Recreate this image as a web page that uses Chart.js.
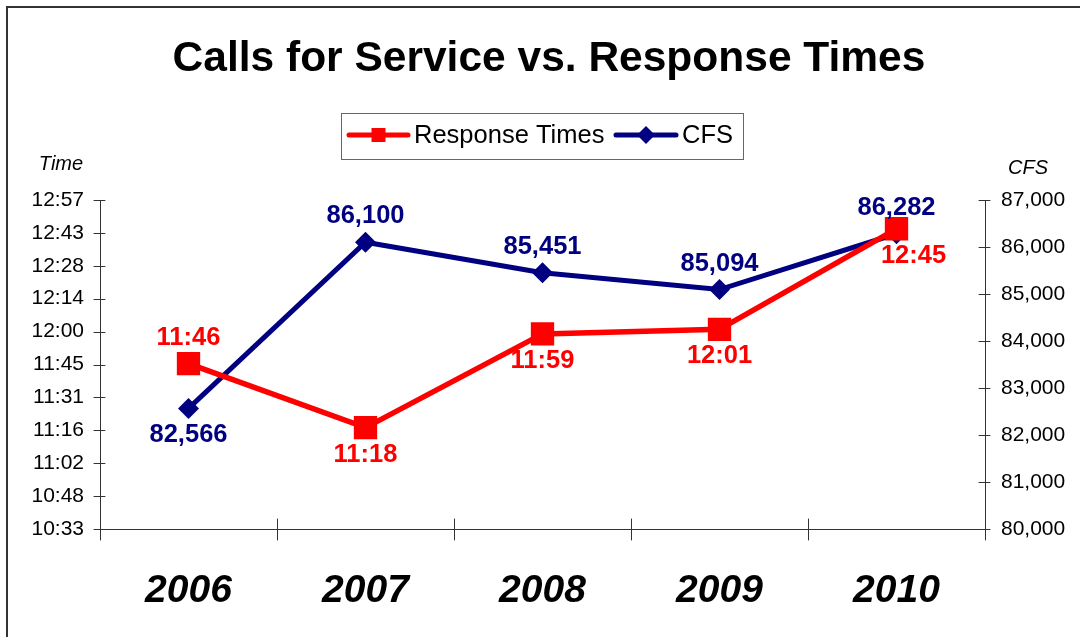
<!DOCTYPE html>
<html>
<head>
<meta charset="utf-8">
<script src="https://cdn.jsdelivr.net/npm/chart.js@4"></script>
<style>
  html, body { margin: 0; padding: 0; background: #fff; }
  #wrap { width: 1080px; height: 637px; position: relative; }
</style>
</head>
<body>
<div id="wrap"><canvas id="cfsChart" width="1080" height="637"></canvas></div>
<script>
// chart data
const years = ['2006', '2007', '2008', '2009', '2010'];
const responseTimes = ['11:46', '11:18', '11:59', '12:01', '12:45'];
const callsForService = [82566, 86100, 85451, 85094, 86282];

// Excel-style time axis: 1 unit = 0.01 day = 14.4 minutes
const TIME_UNIT = 14.4;
const toUnits = t => { const p = t.split(':'); return (+p[0] * 60 + +p[1]) / TIME_UNIT; };
const fmtTime = v => {
  const m = Math.floor(v * TIME_UNIT + 1e-6);
  return Math.floor(m / 60) + ':' + String(m % 60).padStart(2, '0');
};

// label placement: -1 above point, +1 below
const rtLabelSide = [-1, 1, 1, 1, 1];
const cfsLabelSide = [1, -1, -1, -1, -1];

const FONT = 'Liberation Sans, Arial, sans-serif';

const decor = {
  id: 'decor',
  beforeDraw(chart) {
    const c = chart.ctx;
    c.save();
    c.fillStyle = '#fff';
    c.fillRect(0, 0, chart.width, chart.height);
    // outer frame
    c.strokeStyle = '#333';
    c.lineWidth = 2;
    c.beginPath();
    c.moveTo(7, chart.height);
    c.lineTo(7, 7);
    c.lineTo(chart.width, 7);
    c.stroke();
    c.restore();
  },
  afterDraw(chart) {
    const c = chart.ctx;
    const a = chart.chartArea;
    const x = chart.scales.x, yL = chart.scales.y, yR = chart.scales.y1;
    c.save();
    // title
    c.fillStyle = '#000';
    c.font = 'bold 42.5px ' + FONT;
    c.textAlign = 'center';
    c.textBaseline = 'middle';
    c.fillText('Calls for Service vs. Response Times', 549, 59);

    // axis titles
    c.font = 'italic 20px ' + FONT;
    c.fillText('Time', 61, 164);
    c.fillText('CFS', 1028, 168);

    // legend box
    c.strokeStyle = '#666';
    c.lineWidth = 1;
    c.strokeRect(341.5, 113.5, 402, 46);
    const ly = 135;
    const items = [
      { ds: chart.data.datasets[0], x0: 349, x1: 408 },
      { ds: chart.data.datasets[1], x0: 616, x1: 676 }
    ];
    items.forEach(it => {
      c.strokeStyle = it.ds.borderColor;
      c.lineWidth = 5;
      c.lineCap = 'round';
      c.beginPath(); c.moveTo(it.x0, ly); c.lineTo(it.x1, ly); c.stroke();
      c.fillStyle = it.ds.borderColor;
      const mx = (it.x0 + it.x1) / 2;
      c.beginPath();
      if (it.ds.pointStyle === 'rect') {
        c.rect(mx - 7, ly - 7, 14, 14);
      } else {
        c.moveTo(mx, ly - 9); c.lineTo(mx + 9, ly); c.lineTo(mx, ly + 9); c.lineTo(mx - 9, ly);
      }
      c.fill();
      c.fillStyle = '#000';
      c.font = '25.5px ' + FONT;
      c.textAlign = 'left';
      c.fillText(it.ds.label, it.x1 + 6, ly + 1);
    });

    // cross tick marks on the axes
    c.strokeStyle = '#333';
    c.lineWidth = 1;
    c.beginPath();
    yL.ticks.forEach(t => {
      const py = Math.round(yL.getPixelForValue(t.value)) + 0.5;
      c.moveTo(a.left - 6, py); c.lineTo(a.left + 5, py);
    });
    yR.ticks.forEach(t => {
      const py = Math.round(yR.getPixelForValue(t.value)) + 0.5;
      c.moveTo(a.right - 6, py); c.lineTo(a.right + 5, py);
    });
    const step = x.getPixelForValue(1) - x.getPixelForValue(0);
    for (let i = 0; i <= years.length; i++) {
      const px = Math.round(x.getPixelForValue(i) - step / 2) + 0.5;
      c.moveTo(px, a.bottom - 10); c.lineTo(px, a.bottom + 11);
    }
    c.stroke();

    // data labels
    c.font = 'bold 25.5px ' + FONT;
    c.textAlign = 'center';
    const drawLabels = (idx, side, fmt, dx) => {
      const meta = chart.getDatasetMeta(idx);
      c.fillStyle = chart.data.datasets[idx].borderColor;
      meta.data.forEach((pt, i) => {
        const off = side[i] < 0 ? -26 : 27;
        c.fillText(fmt(i), pt.x + (dx[i] || 0), pt.y + off);
      });
    };
    drawLabels(0, rtLabelSide, i => responseTimes[i], [0, 0, 0, 0, 17]);
    drawLabels(1, cfsLabelSide, i => callsForService[i].toLocaleString('en-US'), [0, 0, 0, 0, 0]);
    c.restore();
  }
};

new Chart(document.getElementById('cfsChart').getContext('2d'), {
  type: 'line',
  data: {
    labels: years,
    datasets: [{
      label: 'Response Times',
      data: responseTimes.map(toUnits),
      yAxisID: 'y',
      borderColor: '#ff0000',
      backgroundColor: '#ff0000',
      borderWidth: 5.5,
      pointStyle: 'rect',
      pointRadius: 16.5,
      pointHoverRadius: 16.5,
      pointBorderWidth: 0,
      tension: 0
    }, {
      label: 'CFS',
      data: callsForService,
      yAxisID: 'y1',
      borderColor: '#000080',
      backgroundColor: '#000080',
      borderWidth: 5,
      pointStyle: 'rectRot',
      pointRadius: 10.5,
      pointHoverRadius: 10.5,
      pointBorderWidth: 0,
      tension: 0
    }]
  },
  options: {
    responsive: false,
    animation: false,
    events: [],
    layout: { padding: { top: 200, left: 0, right: 0, bottom: 0 } },
    plugins: {
      legend: { display: false },
      title: { display: false },
      tooltip: { enabled: false }
    },
    scales: {
      x: {
        offset: true,
        grid: { display: false },
        border: { display: true, color: '#333', width: 1 },
        ticks: {
          color: '#000',
          padding: 31,
          font: { family: FONT, size: 39, weight: 'bold', style: 'italic' }
        },
        afterFit: s => { s.height = 108; }
      },
      y: {
        position: 'left',
        min: 44,
        max: 54,
        grid: { display: false },
        border: { display: true, color: '#333', width: 1 },
        ticks: {
          stepSize: 1,
          color: '#000',
          padding: 8,
          font: { family: FONT, size: 21 },
          callback: v => fmtTime(v)
        },
        afterFit: s => { s.width = 100; }
      },
      y1: {
        position: 'right',
        min: 80000,
        max: 87000,
        grid: { display: false },
        border: { display: true, color: '#333', width: 1 },
        ticks: {
          stepSize: 1000,
          color: '#000',
          padding: 8,
          font: { family: FONT, size: 21 },
          callback: v => v.toLocaleString('en-US')
        },
        afterFit: s => { s.width = 95; }
      }
    }
  },
  plugins: [decor]
});
</script>
</body>
</html>
